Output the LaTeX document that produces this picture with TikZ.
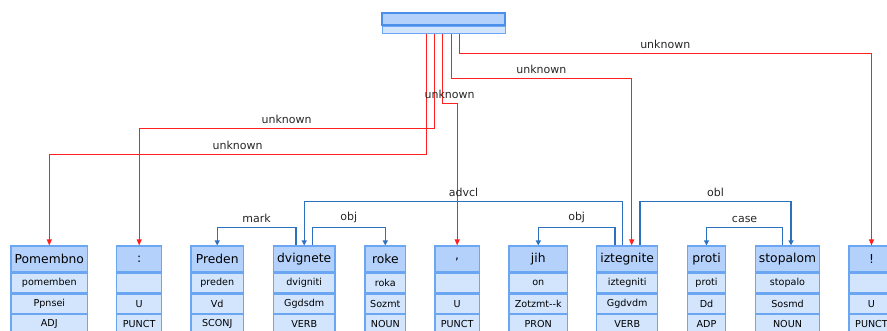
\documentclass[tikz,border=0pt]{standalone}
\usepackage{fontspec}
\setmainfont{DejaVu Sans}
\usetikzlibrary{positioning, arrows.meta}
\definecolor{boxline}{HTML}{6AA6F2}
\definecolor{headfill}{HTML}{B4D1FC}
\definecolor{rowfill}{HTML}{D2E5FD}
\definecolor{rootline}{HTML}{4C8FEA}
\definecolor{deplink}{HTML}{2C70BE}
\definecolor{unklink}{HTML}{FF2020}

\begin{document}
\begin{tikzpicture}[x=1pt, y=-1pt,
	head/.style={draw=boxline, fill=headfill, line width=1.2pt, minimum height=26, inner sep=0pt, font=\fontsize{12.3}{13}\selectfont},
	cell/.style={draw=boxline, fill=rowfill, line width=1.2pt, minimum height=19.5, inner sep=0pt, font=\fontsize{9.6}{10}\selectfont},
	dep/.style={draw=deplink, line width=1.2pt, -{Triangle[length=5pt, width=5pt]}},
	unk/.style={draw=unklink, line width=1pt, -{Triangle[length=6pt, width=5pt]}},
	lab/.style={above, inner sep=4pt, font=\fontsize{11}{12}\selectfont, text=black!85}]
	\useasboundingbox (0,0) rectangle (887,330);
	% Root
	\node[draw=rootline, fill=headfill, line width=1.2pt, minimum width=123, minimum height=12, inner sep=0pt] (root) at (443.5,19) {};
	\node[draw=boxline, fill=rowfill, line width=1pt, minimum width=123, minimum height=7, inner sep=0pt, below=0pt of root] (rootsub) {};
	% Words
	\node[head, minimum width=76.7] (pomembno) at (49.3,259) {Pomembno};
	\node[head, minimum width=45] (colon) at (139.2,259) {:};
	\node[head, minimum width=52.3] (preden) at (217.2,259) {Preden};
	\node[head, minimum width=61.7] (dvignete) at (304.2,259) {dvignete};
	\node[head, minimum width=40.7] (roke) at (385.3,259) {roke};
	\node[head, minimum width=44.3] (comma) at (457.2,259) {,};
	\node[head, minimum width=58.7] (jih) at (538.3,259) {jih};
	\node[head, minimum width=61] (iztegnite) at (627.2,259) {iztegnite};
	\node[head, minimum width=38.3] (proti) at (706.5,259) {proti};
	\node[head, minimum width=63.6] (stopalom) at (787.5,259) {stopalom};
	\node[head, minimum width=45] (excl) at (871.5,259) {!};
	% Lemmas
	\node[cell, minimum width=76.7, below=0pt of pomembno] (pomembno1) {pomemben};
	\node[cell, minimum width=45, below=0pt of colon] (colon1) {};
	\node[cell, minimum width=52.3, below=0pt of preden] (preden1) {preden};
	\node[cell, minimum width=61.7, below=0pt of dvignete] (dvignete1) {dvigniti};
	\node[cell, minimum width=40.7, below=0pt of roke] (roke1) {roka};
	\node[cell, minimum width=44.3, below=0pt of comma] (comma1) {};
	\node[cell, minimum width=58.7, below=0pt of jih] (jih1) {on};
	\node[cell, minimum width=61, below=0pt of iztegnite] (iztegnite1) {iztegniti};
	\node[cell, minimum width=38.3, below=0pt of proti] (proti1) {proti};
	\node[cell, minimum width=63.6, below=0pt of stopalom] (stopalom1) {stopalo};
	\node[cell, minimum width=45, below=0pt of excl] (excl1) {};
	% Tags
	\node[cell, minimum width=76.7, below=0pt of pomembno1] (pomembno2) {Ppnsei};
	\node[cell, minimum width=45, below=0pt of colon1] (colon2) {U};
	\node[cell, minimum width=52.3, below=0pt of preden1] (preden2) {Vd};
	\node[cell, minimum width=61.7, below=0pt of dvignete1] (dvignete2) {Ggdsdm};
	\node[cell, minimum width=40.7, below=0pt of roke1] (roke2) {Sozmt};
	\node[cell, minimum width=44.3, below=0pt of comma1] (comma2) {U};
	\node[cell, minimum width=58.7, below=0pt of jih1] (jih2) {Zotzmt-{}-k};
	\node[cell, minimum width=61, below=0pt of iztegnite1] (iztegnite2) {Ggdvdm};
	\node[cell, minimum width=38.3, below=0pt of proti1] (proti2) {Dd};
	\node[cell, minimum width=63.6, below=0pt of stopalom1] (stopalom2) {Sosmd};
	\node[cell, minimum width=45, below=0pt of excl1] (excl2) {U};
	% POS
	\node[cell, minimum width=76.7, below=0pt of pomembno2] (pomembno3) {ADJ};
	\node[cell, minimum width=45, below=0pt of colon2] (colon3) {PUNCT};
	\node[cell, minimum width=52.3, below=0pt of preden2] (preden3) {SCONJ};
	\node[cell, minimum width=61.7, below=0pt of dvignete2] (dvignete3) {VERB};
	\node[cell, minimum width=40.7, below=0pt of roke2] (roke3) {NOUN};
	\node[cell, minimum width=44.3, below=0pt of comma2] (comma3) {PUNCT};
	\node[cell, minimum width=58.7, below=0pt of jih2] (jih3) {PRON};
	\node[cell, minimum width=61, below=0pt of iztegnite2] (iztegnite3) {VERB};
	\node[cell, minimum width=38.3, below=0pt of proti2] (proti3) {ADP};
	\node[cell, minimum width=63.6, below=0pt of stopalom2] (stopalom3) {NOUN};
	\node[cell, minimum width=45, below=0pt of excl2] (excl3) {PUNCT};
	% Arrows root
	\draw[unk] ([xshift=-17.5pt]rootsub.south) -- ++(0,121) -| (pomembno.north) node[lab, pos=0.25] {unknown};
	\draw[unk] ([xshift=-9.5pt]rootsub.south) -- ++(0,95) -| (colon.north) node[lab, pos=0.25] {unknown};
	\draw[unk] ([xshift=-1.5pt]rootsub.south) -- ++(0,70) -| (comma.north) node[lab, pos=0.25] {unknown};
	\draw[unk] ([xshift=7.5pt]rootsub.south) -- ++(0,45) -| ([xshift=4.5pt]iztegnite.north) node[lab, pos=0.25] {unknown};
	\draw[unk] ([xshift=15.5pt]rootsub.south) -- ++(0,20) -| (excl.north) node[lab, pos=0.25] {unknown};
	% Arrows dependencies
	\draw[dep] ([xshift=-8.2pt]dvignete.north) -- ++(0,-18.3) -| (preden.north) node[lab, pos=0.25] {mark};
	\draw[dep] ([xshift=8.1pt]dvignete.north) -- ++(0,-18.3) -| (roke.north) node[lab, pos=0.25] {obj};
	\draw[dep] ([xshift=-4.5pt]iztegnite.north) -- ++(0,-43.7) -| (dvignete.north) node[lab, pos=0.25] {advcl};
	\draw[dep] ([xshift=-12.2pt]iztegnite.north) -- ++(0,-18.3) -| (jih.north) node[lab, pos=0.25] {obj};
	\draw[dep] ([xshift=12.8pt]iztegnite.north) -- ++(0,-43.7) -| ([xshift=3.5pt]stopalom.north) node[lab, pos=0.25] {obl};
	\draw[dep] ([xshift=-4.8pt]stopalom.north) -- ++(0,-18.3) -| (proti.north) node[lab, pos=0.25] {case};
\end{tikzpicture}
\end{document}
